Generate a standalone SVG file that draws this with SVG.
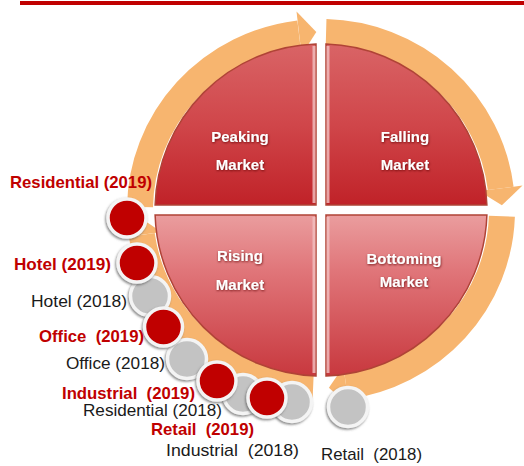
<svg xmlns="http://www.w3.org/2000/svg" width="524" height="466" viewBox="0 0 524 466">
  <style>
    .ring { fill: none; stroke: #f7b56f; stroke-width: 26; stroke-linecap: butt; }
    .head { fill: #f7b56f; }
    .qlabel { font-family: "Liberation Sans", Arial, sans-serif; font-weight: bold; font-size: 15px; fill: #ffffff; text-anchor: middle; filter: url(#txtShadow); }
    .lbl { font-family: "Liberation Sans", Arial, sans-serif; font-size: 17px; }
    .y19 { font-weight: bold; fill: #c00000; }
    .y18 { fill: #1a1a1a; }
    .red { fill: #c00000; stroke: #f4f4f4; stroke-width: 3.5; filter: url(#dotShadow); }
    .gray { fill: #c3c3c3; stroke: #f4f4f4; stroke-width: 3.5; filter: url(#dotShadow); }
    .edge { stroke: #f2c2c2; stroke-width: 3; opacity: 0.8; }
    .quad { stroke: #b04336; stroke-width: 1.5; }
  </style>
  <defs>
    <linearGradient id="gTop" gradientUnits="userSpaceOnUse" x1="0" y1="44" x2="0" y2="205">
      <stop offset="0" stop-color="#d96466"/>
      <stop offset="0.5" stop-color="#d0464a"/>
      <stop offset="1" stop-color="#c02228"/>
    </linearGradient>
    <linearGradient id="gBot" gradientUnits="userSpaceOnUse" x1="0" y1="215" x2="0" y2="376">
      <stop offset="0" stop-color="#ea9d9e"/>
      <stop offset="0.35" stop-color="#e07579"/>
      <stop offset="1" stop-color="#c8383e"/>
    </linearGradient>
    <filter id="txtShadow" x="-20%" y="-30%" width="140%" height="160%">
      <feDropShadow dx="0.5" dy="1" stdDeviation="0.9" flood-color="#5a0000" flood-opacity="0.8"/>
    </filter>
    <filter id="dotShadow" x="-30%" y="-30%" width="160%" height="160%">
      <feDropShadow dx="-1" dy="1.5" stdDeviation="1.2" flood-color="#555555" flood-opacity="0.7"/>
    </filter>
  </defs>

  <!-- title rule -->
  <rect x="20" y="1" width="504" height="4" fill="#c00000"/>

  <!-- cycle arrows around the pie -->
  <g id="cycle-arrows">
    <path class="ring" d="M140,206.9 A181,178 0 0 1 298.9,33.3"/>
    <polygon class="head" points="296.5,11.5 316.3,32.1 301.6,55.1"/>
    <path class="ring" d="M326.1,32.1 A181,178 0 0 1 500.7,188.3"/>
    <polygon class="head" points="522.5,185.6 501.9,205.3 478.8,191"/>
    <path class="ring" d="M501.9,216.2 A181,178 0 0 1 346.2,386.3"/>
    <polygon class="head" points="349,406.1 328.9,387.8 343.4,366.5"/>
    <path class="ring" d="M313.1,387.8 A181,178 0 0 1 141.8,234.8"/>
    <polygon class="head" points="122,237.5 140.2,217.8 161.5,232"/>
  </g>

  <!-- market phase quadrants -->
  <g id="peaking-market">
    <path class="quad" d="M316,205 L316,44.1 A166,166 0 0 0 155.1,205 Z" fill="url(#gTop)"/>
    <line class="edge" x1="314" y1="46" x2="314" y2="203"/>
    <text class="qlabel" x="240" y="142">Peaking</text>
    <text class="qlabel" x="240" y="170">Market</text>
  </g>
  <g id="falling-market">
    <path class="quad" d="M326,205 L326,44.1 A166,166 0 0 1 486.9,205 Z" fill="url(#gTop)"/>
    <line class="edge" x1="328" y1="46" x2="328" y2="203"/>
    <text class="qlabel" x="405" y="142">Falling</text>
    <text class="qlabel" x="405" y="170">Market</text>
  </g>
  <g id="bottoming-market">
    <path class="quad" d="M326,215 L486.9,215 A166,166 0 0 1 326,375.9 Z" fill="url(#gBot)"/>
    <line class="edge" x1="328" y1="217" x2="328" y2="373"/>
    <text class="qlabel" x="404" y="264">Bottoming</text>
    <text class="qlabel" x="404" y="287">Market</text>
  </g>
  <g id="rising-market">
    <path class="quad" d="M316,215 L316,375.9 A166,166 0 0 1 155.1,215 Z" fill="url(#gBot)"/>
    <line class="edge" x1="314" y1="217" x2="314" y2="373"/>
    <text class="qlabel" x="240" y="261">Rising</text>
    <text class="qlabel" x="240" y="290">Market</text>
  </g>

  <!-- 2018 positions -->
  <g id="hotel-2018">
    <circle class="gray" cx="150" cy="296" r="19.5"/>
    <text class="lbl y18" x="31" y="307" textLength="96" lengthAdjust="spacingAndGlyphs">Hotel (2018)</text>
  </g>
  <g id="office-2018">
    <circle class="gray" cx="187" cy="359" r="19.5"/>
    <text class="lbl y18" x="66" y="369" textLength="99" lengthAdjust="spacingAndGlyphs">Office (2018)</text>
  </g>
  <g id="residential-2018">
    <circle class="gray" cx="243" cy="394" r="19.5"/>
    <text class="lbl y18" x="83" y="416" textLength="139" lengthAdjust="spacingAndGlyphs">Residential (2018)</text>
  </g>
  <g id="industrial-2018">
    <circle class="gray" cx="292" cy="402" r="19.5"/>
    <text class="lbl y18" x="166" y="456" textLength="133" lengthAdjust="spacingAndGlyphs" xml:space="preserve">Industrial  (2018)</text>
  </g>
  <g id="retail-2018">
    <circle class="gray" cx="348" cy="407" r="19.5"/>
    <text class="lbl y18" x="321" y="460" textLength="101" lengthAdjust="spacingAndGlyphs" xml:space="preserve">Retail  (2018)</text>
  </g>

  <!-- 2019 positions -->
  <g id="residential-2019">
    <circle class="red" cx="127" cy="218" r="19"/>
    <text class="lbl y19" x="10" y="188" textLength="142" lengthAdjust="spacingAndGlyphs">Residential (2019)</text>
  </g>
  <g id="hotel-2019">
    <circle class="red" cx="137" cy="263" r="19"/>
    <text class="lbl y19" x="14" y="270" textLength="97" lengthAdjust="spacingAndGlyphs">Hotel (2019)</text>
  </g>
  <g id="office-2019">
    <circle class="red" cx="163.5" cy="327" r="19"/>
    <text class="lbl y19" x="39" y="342" textLength="105" lengthAdjust="spacingAndGlyphs" xml:space="preserve">Office  (2019)</text>
  </g>
  <g id="industrial-2019">
    <circle class="red" cx="217" cy="381" r="19"/>
    <text class="lbl y19" x="62" y="399" textLength="133" lengthAdjust="spacingAndGlyphs" xml:space="preserve">Industrial  (2019)</text>
  </g>
  <g id="retail-2019">
    <circle class="red" cx="267" cy="398" r="19"/>
    <text class="lbl y19" x="151" y="435" textLength="103" lengthAdjust="spacingAndGlyphs" xml:space="preserve">Retail  (2019)</text>
  </g>
</svg>
